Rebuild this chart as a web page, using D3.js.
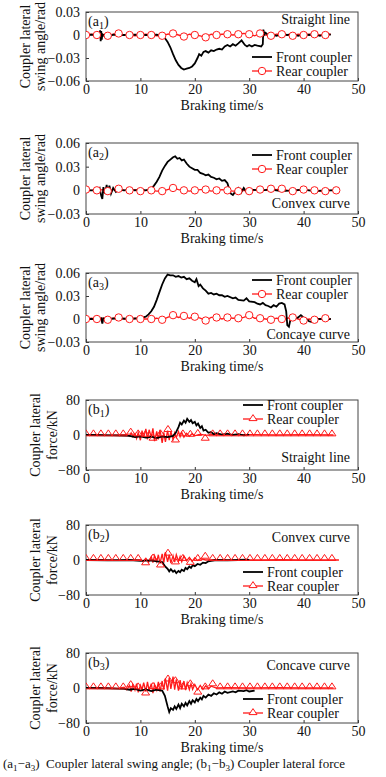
<!DOCTYPE html>
<html>
<head>
<meta charset="utf-8">
<script src="https://cdn.jsdelivr.net/npm/d3@7"></script>
<style>
  body { margin: 0; background: #fff; }
  text { font-family: "Liberation Serif", "Times New Roman", serif; fill: #111; }
</style>
</head>
<body>
<script>
// ---- data ----
const timeTicks = [0, 10, 20, 30, 40, 50];
const angleTicksA1 = [0.03, 0, -0.03, -0.06];
const angleTicksA23 = [0.06, 0.03, 0, -0.03];
const forceTicks = [80, 0, -80];

// front coupler swing angle, [time s, angle rad]
const frontA1 = [[0,0],[1,0.0005],[2,0],[2.5,0.001],[2.6,0.006],[2.7,-0.008],[2.8,0.005],[2.9,-0.006],[3,0.001],[3.5,-0.002],[4,0.001],[4.5,-0.001],[5,0.0005],[7,0],[9,0.0005],[11,0],[13,0.0005],[14,-0.001],[14.5,-0.004],[15,-0.009],[15.5,-0.016],[16,-0.025],[16.5,-0.033],[17,-0.039],[17.5,-0.043],[18,-0.045],[18.5,-0.044],[19,-0.043],[19.5,-0.041],[20,-0.037],[20.5,-0.03],[20.8,-0.025],[21.2,-0.027],[21.6,-0.022],[22,-0.021],[22.5,-0.023],[23,-0.02],[23.5,-0.021],[24,-0.019],[24.5,-0.018],[25,-0.019],[25.5,-0.015],[26,-0.013],[26.5,-0.015],[27,-0.012],[27.5,-0.014],[28,-0.011],[28.6,-0.007],[29.2,-0.013],[29.6,-0.015],[30,-0.013],[30.5,-0.015],[31,-0.013],[31.5,-0.014],[32.2,-0.015],[32.5,-0.012],[32.6,0.007],[32.8,0.001],[33,0.003],[33.5,0],[34,0.001],[35,-0.001],[36,0.001],[37,0],[38,0.001],[39,-0.001],[40,0.001],[41,0],[42,0.001],[43,-0.001],[44,0.001],[45,0.0005]];
const frontA2 = [[0,0],[2,0],[2.5,0.003],[2.8,-0.007],[3,-0.011],[3.2,0.004],[3.5,-0.004],[3.8,0.007],[4,-0.005],[4.3,0.006],[4.6,-0.004],[5,0.003],[5.5,-0.002],[6,0.001],[7,0],[8,0.001],[9,0],[10,0.001],[11,0],[11.5,0.001],[12,0.002],[12.5,0.006],[13,0.011],[13.5,0.017],[14,0.025],[14.5,0.031],[15,0.036],[15.5,0.039],[16,0.042],[16.4,0.043],[16.8,0.04],[17.2,0.041],[17.6,0.038],[18,0.039],[18.5,0.034],[19,0.03],[19.5,0.028],[20,0.026],[20.5,0.026],[21,0.022],[21.5,0.021],[22,0.019],[22.5,0.02],[23,0.017],[23.5,0.016],[24,0.014],[24.5,0.015],[25,0.012],[25.5,0.013],[26,0.009],[26.3,0.002],[26.6,-0.004],[27,-0.006],[27.5,-0.001],[28,0.003],[28.5,-0.003],[29,0.003],[29.5,-0.002],[30,0.001],[32,0],[34,0.001],[36,-0.001],[38,0],[40,0.001],[42,-0.001],[44,0],[46,0]];
const frontA3 = [[0,0],[2,0],[2.8,0.001],[3,-0.006],[3.2,0.001],[4,0],[6,0.001],[8,0],[10,0.001],[10.5,0.002],[11,0.003],[11.5,0.006],[12,0.01],[12.5,0.016],[13,0.025],[13.5,0.035],[14,0.045],[14.5,0.053],[15,0.058],[15.5,0.057],[16,0.057],[16.5,0.055],[17,0.056],[17.5,0.054],[18,0.055],[18.5,0.052],[19,0.053],[19.5,0.05],[20,0.048],[20.3,0.052],[20.7,0.043],[21,0.045],[21.5,0.04],[22,0.037],[22.5,0.033],[23,0.034],[23.5,0.032],[24,0.033],[24.5,0.031],[25,0.031],[25.5,0.029],[26,0.03],[27,0.027],[27.5,0.028],[28,0.025],[29,0.024],[29.5,0.027],[30,0.023],[31,0.022],[31.5,0.02],[32,0.019],[32.5,0.021],[33,0.018],[33.5,0.017],[34,0.015],[34.5,0.018],[35,0.016],[35.5,0.02],[36,0.021],[36.5,0.019],[36.8,0.01],[37,-0.008],[37.3,-0.01],[37.6,0],[38,0.003],[38.5,0.001],[39,0.002],[39.5,0.005],[40,0.002],[40.5,0],[41,-0.003],[41.5,-0.004],[42,0],[43,0],[44,0],[45,0]];

// rear coupler swing angle, [time s, angle rad]
const rearA1 = [[0,0],[1,0.001],[2,0],[3,0.001],[4,-0.001],[5,0.001],[6,0.002],[7,0],[8,0],[9,-0.001],[10,0],[11,0.001],[12,0],[13,-0.001],[14,-0.001],[15,0.001],[16,0.002],[17,0],[18,-0.002],[19,0.001],[20,0],[21,-0.001],[22,-0.003],[23,0.001],[24,0],[25,0.001],[26,0.001],[27,0],[28,0.001],[29,0.002],[30,0.001],[31,-0.001],[32,0.002],[33,0],[34,-0.001],[35,0.001],[36,0.001],[37,0],[38,-0.001],[39,0.001],[40,0],[41,0.001],[42,0.001],[43,0],[44,0],[45,0.001]];
const rearA2 = [[0,0.001],[1,0],[2,0],[3,0.001],[4,-0.001],[5,0.001],[6,0.002],[7,0],[8,0],[9,0.001],[10,-0.001],[11,0],[12,0],[13,-0.001],[14,-0.001],[15,0.001],[16,0.003],[17,0.001],[18,0],[19,-0.001],[20,0],[21,0.001],[22,0.001],[23,-0.001],[24,0],[25,0.001],[26,0],[27,-0.001],[28,-0.001],[29,0],[30,-0.001],[31,0.001],[32,0.001],[33,0],[34,0.002],[35,0.001],[36,0.002],[37,0],[38,-0.001],[39,0],[40,0.001],[41,0],[42,0],[43,-0.001],[44,-0.001],[45,0],[46,0]];
const rearA3 = [[0,0],[1,0.001],[2,0],[3,0.001],[4,-0.001],[5,0.001],[6,0.002],[7,0],[8,0],[9,0.001],[10,0],[11,0],[12,0],[13,0.001],[14,-0.001],[15,0.002],[16,0.005],[17,0.002],[18,0.004],[19,0.001],[20,0.003],[21,0.001],[22,-0.002],[23,0.002],[24,0.002],[25,0],[26,0.002],[27,0.001],[28,0.001],[29,0.002],[30,0.005],[31,0.001],[32,0.001],[33,0],[34,-0.001],[35,0.001],[36,0],[37,0.001],[38,0.002],[39,0],[40,-0.002],[41,0],[42,-0.001],[43,0],[44,0.001],[45,0]];

// front coupler lateral force, [time s, force kN]
const frontB1 = [[0,0],[5,-1],[8,-2],[9,-5],[10,-3],[11,-6],[12,-4],[13,-7],[14,-3],[15,-5],[16,-2],[16.5,5],[17,18],[17.3,28],[17.6,24],[18,33],[18.3,28],[18.6,37],[19,30],[19.3,34],[19.6,27],[20,30],[20.3,22],[20.6,26],[21,16],[21.3,20],[21.6,10],[22,12],[22.5,5],[23,7],[23.5,2],[24,4],[25,1],[26,3],[27,0],[28,2],[29,-1],[30,1]];
const frontB2 = [[0,0],[4,-1],[8,0],[10,-2],[12,-1],[13,-3],[14,-5],[14.5,-14],[15,-20],[15.3,-26],[15.6,-21],[16,-27],[16.3,-24],[16.6,-30],[17,-25],[17.3,-28],[17.6,-22],[18,-25],[18.3,-18],[18.6,-21],[19,-15],[19.3,-18],[19.6,-12],[20,-14],[20.5,-9],[21,-11],[21.5,-6],[22,-7],[22.5,-3],[23,-2],[24,0],[26,-1],[28,0],[29.5,1],[30,0]];
const frontB3 = [[0,0],[4,-1],[7,-2],[8,-4],[9,-2],[10,-6],[11,-3],[12,-7],[13,-4],[14,-6],[14.5,-18],[15,-42],[15.3,-55],[15.6,-46],[16,-50],[16.3,-42],[16.6,-48],[17,-38],[17.3,-46],[17.6,-36],[18,-42],[18.3,-34],[18.6,-40],[19,-30],[19.3,-36],[19.6,-28],[20,-33],[20.3,-25],[20.6,-30],[21,-22],[21.3,-26],[21.6,-18],[22,-22],[22.5,-15],[23,-18],[23.5,-12],[24,-15],[24.5,-10],[25,-13],[25.5,-8],[26,-11],[27,-8],[27.5,-10],[28,-6],[29,-7],[29.5,-5],[30,-8],[31,-6]];

// rear coupler lateral force line, [time s, force kN]
const rearB1 = [[0,0],[2,1],[4,-1],[6,0],[7.5,1],[8,-3],[8.3,5],[8.6,-4],[9,3],[9.3,-8],[9.6,6],[10,-12],[10.3,10],[10.6,-6],[11,14],[11.3,-10],[11.6,12],[12,-5],[12.3,15],[12.6,-14],[13,8],[13.3,-10],[13.6,12],[14,-18],[14.3,6],[14.6,-16],[15,10],[15.3,-12],[15.6,8],[16,-10],[16.3,5],[16.6,-6],[17,8],[17.3,-4],[17.6,6],[18,-5],[18.5,4],[19,-3],[19.5,3],[20,-2],[21,2],[22,-1],[23,1],[25,0],[30,1],[35,0],[40,1],[45.5,0]];
const rearB2 = [[0,0],[3,1],[6,-1],[9,0],[10,1],[10.5,-3],[11,4],[11.5,-5],[12,8],[12.3,-6],[12.6,10],[13,-4],[13.3,12],[13.6,-8],[14,14],[14.3,-6],[14.6,18],[15,-4],[15.3,12],[15.6,-7],[16,10],[16.3,-5],[16.6,12],[17,-3],[17.3,8],[17.6,-4],[18,9],[18.5,-2],[19,6],[19.5,-3],[20,5],[20.5,-1],[21,3],[22,0],[24,1],[28,0],[32,0],[36,1],[40,0],[46.5,0]];
const rearB3 = [[0,0],[3,1],[6,-1],[7,2],[7.5,-4],[8,6],[8.3,-8],[8.6,8],[9,-5],[9.3,10],[9.6,-10],[10,6],[10.3,-4],[10.6,12],[11,-8],[11.3,14],[11.6,-6],[12,10],[12.3,-12],[12.6,8],[13,-5],[13.3,14],[13.6,-8],[14,16],[14.3,-4],[14.6,22],[15,-6],[15.3,24],[15.6,-2],[16,26],[16.3,-4],[16.6,20],[17,-6],[17.3,18],[17.6,-3],[18,16],[18.3,-5],[18.6,12],[19,-4],[19.3,10],[19.6,-3],[20,8],[20.5,-4],[21,6],[21.5,-3],[22,5],[22.5,-2],[23,4],[24,0],[26,1],[30,0],[35,1],[40,0],[45.5,0]];

// rear coupler triangle marker values, one every 1.37 s
const markStepB = 1.37;
const rearMarksB1 = [4,4,4,4,4,4,8,4,3,-6,4,14,-10,4,3,5,-6,4,4,4,4,4,4,4,4,4,4,4,4,4,4,4,4,4];
const rearMarksB2 = [5,5,5,5,5,5,5,5,-5,6,-10,17,-3,5,-4,5,10,5,5,5,5,5,5,5,5,5,5,5,5,5,5,5,5,5];
const rearMarksB3 = [4,4,4,4,4,4,9,4,-10,5,4,22,18,4,11,-8,4,11,4,4,4,4,4,4,4,4,4,4,4,4,4,4,4,4];

// ---- drawing ----
const svg = d3.select("body").append("svg")
    .attr("width", 386)
    .attr("height", 777);

const x = d3.scaleLinear().domain([0, 50]).range([86, 358]);
const RED = "#ff1a1a";

const panels = [
  { top: 12, bottom: 81, dom: [-0.06, 0.03], ticks: angleTicksA1, tag: "a", sub: "1", y2: "swing angle/rad", front: frontA1, rear: rearA1, mark: "circle",
    note: "Straight line", noteY: 24, legX: 276, legY: 57 },
  { top: 143, bottom: 214, dom: [-0.03, 0.06], ticks: angleTicksA23, tag: "a", sub: "2", y2: "swing angle/rad", front: frontA2, rear: rearA2, mark: "circle",
    note: "Convex curve", noteY: 208, legX: 276, legY: 155 },
  { top: 273, bottom: 342, dom: [-0.03, 0.06], ticks: angleTicksA23, tag: "a", sub: "3", y2: "swing angle/rad", front: frontA3, rear: rearA3, mark: "circle",
    note: "Concave curve", noteY: 339, legX: 276, legY: 280 },
  { top: 400, bottom: 470, dom: [-80, 80], ticks: forceTicks, tag: "b", sub: "1", y2: "force/kN", front: frontB1, rear: rearB1, mark: "tri", marks: rearMarksB1,
    note: "Straight line", noteY: 462, legX: 267, legY: 405 },
  { top: 525, bottom: 595, dom: [-80, 80], ticks: forceTicks, tag: "b", sub: "2", y2: "force/kN", front: frontB2, rear: rearB2, mark: "tri", marks: rearMarksB2,
    note: "Convex curve", noteY: 542, legX: 267, legY: 572 },
  { top: 653, bottom: 723, dom: [-80, 80], ticks: forceTicks, tag: "b", sub: "3", y2: "force/kN", front: frontB3, rear: rearB3, mark: "tri", marks: rearMarksB3,
    note: "Concave curve", noteY: 670, legX: 267, legY: 699 }
];

const angleFmt = d => d === 0 ? "0" : d3.format(".2f")(d);

function triPath(cx, cy) {
  return `M${cx - 4},${cy + 2.6} L${cx},${cy - 3.4} L${cx + 4},${cy + 2.6} Z`;
}

panels.forEach((p, i) => {
  const y = d3.scaleLinear().domain(p.dom).range([p.bottom, p.top]);
  const g = svg.append("g");
  const isA = p.tag === "a";

  // clip
  g.append("clipPath").attr("id", "clip" + i)
    .append("rect").attr("x", 86).attr("y", p.top).attr("width", 272).attr("height", p.bottom - p.top);

  // axes
  const yAxis = d3.axisLeft(y).tickValues(p.ticks).tickSize(-3).tickPadding(6)
    .tickFormat(isA ? angleFmt : d => d === 0 ? "0" : d3.format("d")(d));
  const xAxis = d3.axisBottom(x).tickValues(timeTicks).tickSize(-3).tickPadding(3);

  const ga = g.append("g").attr("transform", `translate(86,0)`).call(yAxis);
  const gx = g.append("g").attr("transform", `translate(0,${p.bottom})`).call(xAxis);
  [ga, gx].forEach(a => {
    a.select(".domain").remove();
    a.selectAll("line").attr("stroke", "#333");
    a.selectAll("text").style("font-size", "14px").attr("fill", "#111")
      .style("font-family", '"Liberation Serif", "Times New Roman", serif');
  });

  // frame
  g.append("rect").attr("x", 86).attr("y", p.top).attr("width", 272).attr("height", p.bottom - p.top)
    .attr("fill", "none").attr("stroke", "#444").attr("stroke-width", 1);

  // x title
  g.append("text").attr("x", 222).attr("y", p.bottom + 29).attr("text-anchor", "middle")
    .style("font-size", "14px").text("Braking time/s");

  // y title (two lines)
  const cy = (p.top + p.bottom) / 2;
  const c1 = isA ? 30 : 40, c2 = isA ? 45 : 57;
  g.append("text").attr("transform", `translate(${c1},${cy}) rotate(-90)`).attr("text-anchor", "middle")
    .style("font-size", "14px").text("Coupler lateral");
  g.append("text").attr("transform", `translate(${c2},${cy}) rotate(-90)`).attr("text-anchor", "middle")
    .style("font-size", "14px").text(p.y2);

  const plot = g.append("g").attr("clip-path", `url(#clip${i})`);
  const line = d3.line().x(d => x(d[0])).y(d => y(d[1]));

  // rear coupler line
  plot.append("path").datum(p.rear).attr("d", line)
    .attr("fill", "none").attr("stroke", RED).attr("stroke-width", 1.3);

  // front coupler line
  plot.append("path").datum(p.front).attr("d", line)
    .attr("fill", "none").attr("stroke", "#000").attr("stroke-width", 1.8);

  // rear markers
  if (p.mark === "circle") {
    plot.selectAll("circle.m").data(p.rear.filter(d => d[0] % 2 === 0)).join("circle")
      .attr("cx", d => x(d[0])).attr("cy", d => y(d[1])).attr("r", 3.7)
      .attr("fill", "#fff").attr("stroke", RED).attr("stroke-width", 1);
  } else {
    plot.selectAll("path.m").data(p.marks).join("path")
      .attr("d", (v, k) => triPath(x(k * markStepB), y(v)))
      .attr("fill", "none").attr("stroke", RED).attr("stroke-width", 1);
  }

  // panel tag
  const tg = g.append("text").attr("x", 88).attr("y", p.top + 14).style("font-size", "14px");
  tg.append("tspan").text("(" + p.tag);
  tg.append("tspan").attr("dy", 3).style("font-size", "10px").text(p.sub);
  tg.append("tspan").attr("dy", -3).text(")");

  // note
  g.append("text").attr("x", 350).attr("y", p.noteY).attr("text-anchor", "end")
    .style("font-size", "14px").text(p.note);

  // legend
  const lx = p.legX;
  g.append("line").attr("x1", lx - 24).attr("x2", lx - 4).attr("y1", p.legY).attr("y2", p.legY)
    .attr("stroke", "#000").attr("stroke-width", 1.8);
  g.append("text").attr("x", lx).attr("y", p.legY + 5).style("font-size", "14px").text("Front coupler");
  const ry = p.legY + 14;
  g.append("line").attr("x1", lx - 24).attr("x2", lx - 4).attr("y1", ry).attr("y2", ry)
    .attr("stroke", RED).attr("stroke-width", 1.3);
  if (p.mark === "circle") {
    g.append("circle").attr("cx", lx - 14).attr("cy", ry).attr("r", 3.7)
      .attr("fill", "#fff").attr("stroke", RED);
  } else {
    g.append("path").attr("d", triPath(lx - 14, ry - 1)).attr("fill", "#fff").attr("stroke", RED);
  }
  g.append("text").attr("x", lx).attr("y", ry + 5).style("font-size", "14px").text("Rear coupler");
});

// caption
const cap = svg.append("text").attr("x", 3).attr("y", 768).style("font-size", "13px");
cap.append("tspan").text("(a");
cap.append("tspan").attr("dy", 3).style("font-size", "9px").text("1");
cap.append("tspan").attr("dy", -3).text("\u2212a");
cap.append("tspan").attr("dy", 3).style("font-size", "9px").text("3");
cap.append("tspan").attr("dy", -3).text(")\u00a0\u00a0Coupler lateral swing angle; (b");
cap.append("tspan").attr("dy", 3).style("font-size", "9px").text("1");
cap.append("tspan").attr("dy", -3).text("\u2212b");
cap.append("tspan").attr("dy", 3).style("font-size", "9px").text("3");
cap.append("tspan").attr("dy", -3).text(") Coupler lateral force");
</script>
</body>
</html>
